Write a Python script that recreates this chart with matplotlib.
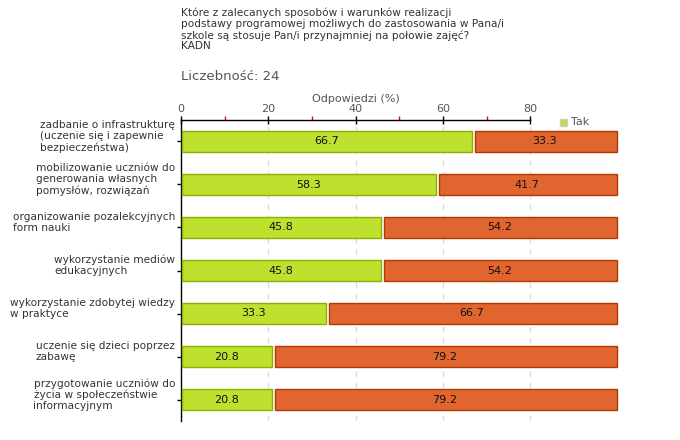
import matplotlib
matplotlib.use("Agg")
import matplotlib.pyplot as plt
import numpy as np

categories = [
    "zadbanie o infrastrukturę\n(uczenie się i zapewnie\nbezpieczeństwa)",
    "mobilizowanie uczniów do\ngenerowania własnych\npomysłów, rozwiązań",
    "organizowanie pozalekcyjnych\nform nauki",
    "wykorzystanie mediów\nedukacyjnych",
    "wykorzystanie zdobytej wiedzy\nw praktyce",
    "uczenie się dzieci poprzez\nzabawę",
    "przygotowanie uczniów do\nżycia w społeczeństwie\ninformacyjnym",
]
tak = [66.7, 58.3, 45.8, 45.8, 33.3, 20.8, 20.8]
nie = [33.3, 41.7, 54.2, 54.2, 66.7, 79.2, 79.2]
xticks = [0, 20, 40, 60, 80]

title = ("Które z zalecanych sposobów i warunków realizacji\n"
         "podstawy programowej możliwych do zastosowania w Pana/i\n"
         "szkole są stosuje Pan/i przynajmniej na połowie zajęć?\n"
         "KADN")
count_text = "Liczebność: 24"
xlabel = "Odpowiedzi (%)"
legend_label = "Tak"

W, H = 680, 440
fig = plt.figure(figsize=(W / 100, H / 100), dpi=100)
plt.rcParams['font.family'] = ['DejaVu Sans']

def fx(px):
    return px / W

def fy(py):
    return 1 - py / H

ax = fig.add_axes([fx(181), fy(421), fx(617.6) - fx(181), fy(120) - fy(421)])
ax.set_xlim(0, 100)
ax.set_ylim(len(categories) - 0.5, -0.5)

green = "#bde12e"
green_e = "#8cb000"
orange = "#e0652f"
orange_e = "#b03a00"

y = np.arange(len(categories))
gap = 0.7
inset = 0.25
h = 0.47
b1 = ax.barh(y, np.array(tak) - inset, left=inset, height=h, color=green,
             edgecolor=green_e, linewidth=1, zorder=3)
b2 = ax.barh(y, np.array(nie) - gap - 0.15, left=np.array(tak) + gap, height=h,
             color=orange, edgecolor=orange_e, linewidth=1, zorder=3)
for p in list(b1) + list(b2):
    p.set_clip_on(False)

for i in range(len(categories)):
    ax.text(tak[i] / 2, i, f"{tak[i]:.1f}", ha="center", va="center",
            fontsize=8, color="#111111", zorder=4)
    ax.text(tak[i] + nie[i] / 2, i, f"{nie[i]:.1f}", ha="center", va="center",
            fontsize=8, color="#111111", zorder=4)

# grid
for v in xticks[1:]:
    ax.axvline(v, color="#dddddd", linestyle=(0, (4, 4)), linewidth=1, zorder=1)

# spines
for s in ["right", "bottom"]:
    ax.spines[s].set_visible(False)
ax.spines["top"].set_bounds(0, 80)
ax.spines["top"].set_linewidth(1)
ax.spines["left"].set_linewidth(1)

ax.xaxis.tick_top()
ax.set_xticks(xticks)
ax.set_xticklabels([str(v) for v in xticks], fontsize=8, color="#555555")
ax.set_xticks([10, 30, 50, 70], minor=True)
ax.tick_params(axis="x", which="major", direction="inout", length=6, width=1,
               color="black", pad=1)
ax.tick_params(axis="x", which="minor", direction="out", length=3, width=1,
               color="red")

ax.set_yticks(y)
ax.set_yticklabels([])
ax.tick_params(axis="y", direction="out", length=3, width=1)

for i, lab in enumerate(categories):
    ax.annotate(lab, xy=(0, i), xycoords=("axes fraction", "data"),
                xytext=(-6, 5), textcoords="offset pixels",
                ha="right", va="center", multialignment="left",
                fontsize=7.6, color="#333333", linespacing=1.12)

fig.text(fx(355.5), fy(99), xlabel, ha="center", va="center",
         fontsize=8, color="#555555")

fig.text(fx(181), fy(8), title, ha="left", va="top", fontsize=7.6,
         color="#333333", linespacing=1.1)
fig.text(fx(181), fy(80), count_text, ha="left", va="baseline", fontsize=9.5,
         color="#555555")

# legend
fig.patches.append(plt.Rectangle((fx(560), fy(126)), fx(7), 7 / H,
                                 transform=fig.transFigure, facecolor=green,
                                 edgecolor="#cccccc", linewidth=1))
fig.text(fx(571), fy(122), legend_label, ha="left", va="center",
         fontsize=8, color="#555555")

fig.savefig("out.png", dpi=100)
